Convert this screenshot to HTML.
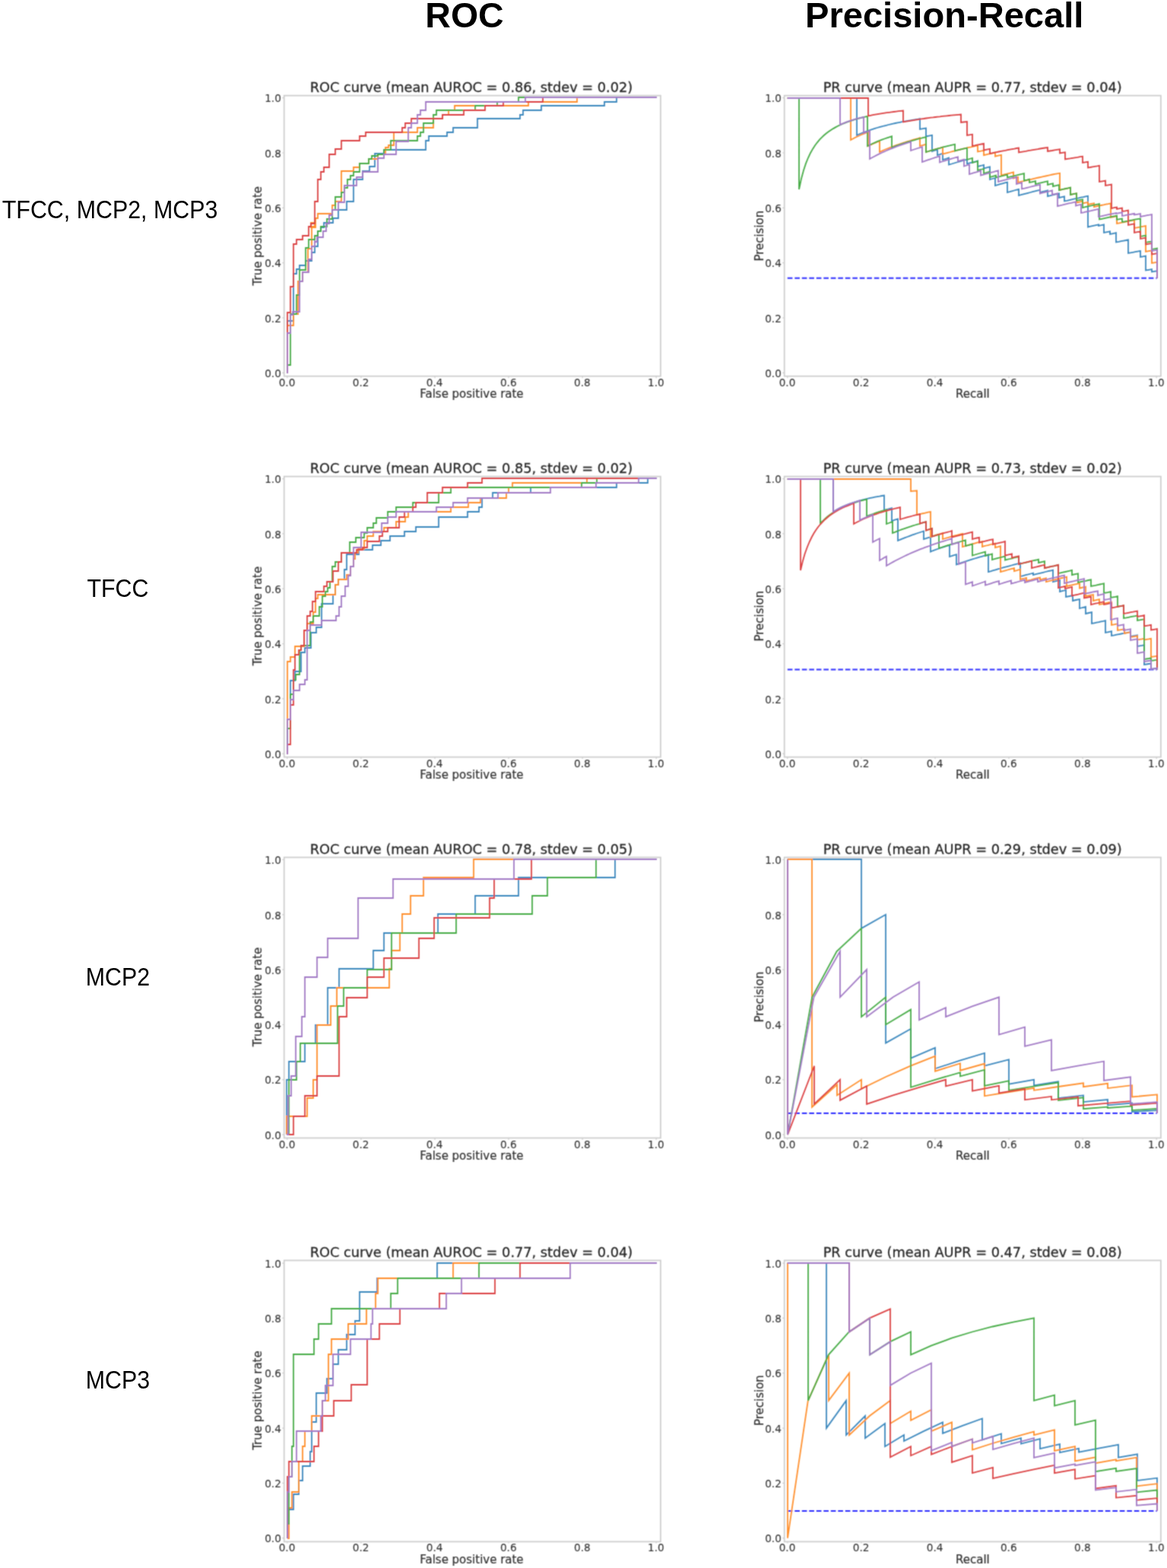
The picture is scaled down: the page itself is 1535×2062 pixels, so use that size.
<!DOCTYPE html>
<html lang="en">
<head>
<meta charset="utf-8">
<title>ROC and Precision-Recall curves</title>
<style>
html,body{margin:0;padding:0;background:#fff;}
body{width:1535px;height:2062px;overflow:hidden;}
svg{display:block;}
.hd{font-family:"Liberation Sans",sans-serif;font-weight:bold;font-size:46.5px;fill:#000;text-anchor:middle;}
.rl{font-family:"Liberation Sans",sans-serif;font-size:30.4px;fill:#000;}
.tt{font-family:"DejaVu Sans","Liberation Sans",sans-serif;font-size:17.75px;fill:#303030;text-anchor:middle;}
.al{font-family:"DejaVu Sans","Liberation Sans",sans-serif;font-size:15px;fill:#303030;text-anchor:middle;}
.tk{font-family:"DejaVu Sans","Liberation Sans",sans-serif;font-size:13.6px;fill:#303030;}
.tt{fill:#262626;stroke:#262626;stroke-width:.3px;}
.al{stroke:#303030;stroke-width:.2px;}
.tk{stroke:#303030;stroke-width:.1px;}
.tx{text-anchor:middle;}
.ty{text-anchor:end;}
.sp{fill:none;stroke:#cccccc;stroke-width:1.7;}
.tm{stroke:#cccccc;stroke-width:1.2;}
.c{fill:none;stroke-width:1.8;stroke-linejoin:miter;stroke-linecap:butt;}
.b{stroke:#3a87bd;}.o{stroke:#ff8e2b;}.g{stroke:#45ab45;}.r{stroke:#db4142;}.p{stroke:#a179c5;}
.bl{fill:none;stroke:#2a2aff;stroke-width:2;stroke-dasharray:6.6 2.9;}
</style>
</head>
<body>
<svg width="1535" height="2062" viewBox="0 0 1535 2062">
<rect width="1535" height="2062" fill="#fff"/>
<defs><filter id="soft" filterUnits="userSpaceOnUse" x="0" y="0" width="1535" height="2062"><feConvolveMatrix order="3" kernelMatrix="0.0400 0.1200 0.0400 0.1200 0.3600 0.1200 0.0400 0.1200 0.0400" divisor="1" edgeMode="duplicate" preserveAlpha="false"/></filter></defs>
<text class="hd" x="611" y="35.8">ROC</text>
<text class="hd" x="1242.2" y="36" style="font-size:47.1px">Precision-Recall</text>
<text class="rl" transform="translate(2.8 287) scale(1 1.08)" text-anchor="start">TFCC, MCP2, MCP3</text>
<text class="rl" transform="translate(155 785.4) scale(1 1.08)" text-anchor="middle">TFCC</text>
<text class="rl" transform="translate(155 1296) scale(1 1.08)" text-anchor="middle">MCP2</text>
<text class="rl" transform="translate(155 1826) scale(1 1.08)" text-anchor="middle">MCP3</text>
<g filter="url(#soft)">
<g>
<clipPath id="clip00"><rect x="373.7" y="125.7" width="495.2" height="369"/></clipPath>
<g clip-path="url(#clip00)">
<path class="c b" d="M378 491L378 422L386 422L386 360L390 360L390 354L394 354L394 349L402 349L402 343L410 343L410 332L414 332L414 324L418 324L418 304L422 304L422 299L426 299L426 293L438 293L438 287L445 287L445 276L456 276L456 265L465 265L465 236L477 236L477 225L486 225L486 219L493 219L493 202L505 202L505 197L560 197L560 185L564 185L564 179L588 179L588 174L596 174L596 168L628 168L628 156L684 156L684 151L688 151L688 145L712 145L712 139L795 139L795 134L811 134L811 128L864 128"/>
<path class="c o" d="M378 491L378 428L386 428L386 413L392 413L392 370L398 370L398 358L405 358L405 327L410 327L410 298L414 298L414 293L409 293L409 299L415 299L415 287L418 287L418 281L437 281L437 270L441 270L441 265L449 265L449 225L465 225L465 220L473 220L473 215L485 215L485 209L497 209L497 203L507 203L507 194L511 194L511 191L518 191L518 174L549 174L549 168L570 168L570 156L582 156L582 151L590 151L590 145L598 145L598 139L695 139L695 134L759 134L759 128L864 128"/>
<path class="c g" d="M378 491L378 480L382 480L382 413L390 413L390 388L394 388L394 355L402 355L402 326L406 326L406 315L414 315L414 310L418 310L418 304L422 304L422 298L430 298L430 293L430 288L437 288L437 276L441 276L441 259L449 259L449 253L453 253L453 247L457 247L457 236L461 236L461 231L465 231L465 226L473 226L473 215L485 215L485 209L489 209L489 205L497 205L497 203L505 203L505 197L514 197L514 185L549 185L549 179L553 179L553 174L557 174L557 162L570 162L570 151L574 151L574 145L625 145L625 139L654 139L654 134L682 134L682 128L864 128"/>
<path class="c r" d="M378 491L378 411L382 411L382 377L386 377L386 321L390 321L390 315L398 315L398 310L406 310L406 298L409 298L409 294L414 294L414 265L418 265L418 236L422 236L422 226L426 226L426 220L433 220L433 203L441 203L441 196L449 196L449 185L473 185L473 179L481 179L481 174L529 174L529 168L533 168L533 162L541 162L541 156L582 156L582 151L610 151L610 145L638 145L638 139L662 139L662 134L714 134L714 128L864 128"/>
<path class="c p" d="M378 491L378 438L382 438L382 414L385 414L385 410L394 410L394 370L398 370L398 358L406 358L406 341L410 341L410 324L414 324L414 316L414 318L417 318L417 312L425 312L425 304L429 304L429 294L433 294L433 283L437 283L437 276L445 276L445 266L453 266L453 244L469 244L469 233L477 233L477 226L497 226L497 208L505 208L505 203L521 203L521 186L537 186L537 168L541 168L541 162L549 162L549 151L553 151L553 145L560 145L560 134L691 134L691 128L864 128"/>
</g>
<rect class="sp" x="373.7" y="125.7" width="495.2" height="369"/>
<text class="tt" transform="translate(620 120.9) scale(1 1.02)">ROC curve (mean AUROC = 0.86, stdev = 0.02)</text>
<path class="tm" d="M377.8 494.7v2.5M373.7 490.3h-2.5"/><text class="tk tx" transform="translate(377.5 508) scale(1 1.05)">0.0</text><text class="tk ty" transform="translate(369.8 496) scale(1 1.05)">0.0</text>
<path class="tm" d="M474.9 494.7v2.5M373.7 418h-2.5"/><text class="tk tx" transform="translate(474.58 508) scale(1 1.05)">0.2</text><text class="tk ty" transform="translate(369.8 423.68) scale(1 1.05)">0.2</text>
<path class="tm" d="M572 494.7v2.5M373.7 345.7h-2.5"/><text class="tk tx" transform="translate(571.66 508) scale(1 1.05)">0.4</text><text class="tk ty" transform="translate(369.8 351.36) scale(1 1.05)">0.4</text>
<path class="tm" d="M669 494.7v2.5M373.7 273.3h-2.5"/><text class="tk tx" transform="translate(668.74 508) scale(1 1.05)">0.6</text><text class="tk ty" transform="translate(369.8 279.04) scale(1 1.05)">0.6</text>
<path class="tm" d="M766.1 494.7v2.5M373.7 201h-2.5"/><text class="tk tx" transform="translate(765.82 508) scale(1 1.05)">0.8</text><text class="tk ty" transform="translate(369.8 206.72) scale(1 1.05)">0.8</text>
<path class="tm" d="M863.2 494.7v2.5M373.7 128.7h-2.5"/><text class="tk tx" transform="translate(862.9 508) scale(1 1.05)">1.0</text><text class="tk ty" transform="translate(369.8 134.4) scale(1 1.05)">1.0</text>
<text class="al" transform="translate(620.4 523.2) scale(1 1.05)">False positive rate</text>
<text class="al" transform="translate(344 310.2) rotate(-90) scale(1 1.05)">True positive rate</text>
</g>
<g>
<clipPath id="clip01"><rect x="1031.7" y="125.7" width="495.2" height="369"/></clipPath>
<g clip-path="url(#clip01)">
<path class="bl" d="M1035.8 365.7H1521.8"/>
<path class="c b" d="M1035.8 129L1038.7 129L1041.7 129L1044.6 129L1047.6 129L1050.5 129L1053.5 129L1056.4 129L1059.3 129L1062.3 129L1065.2 129L1068.2 129L1071.1 129L1074 129L1077 129L1079.9 129L1082.9 129L1085.8 129L1088.8 129L1091.7 129L1094.6 129L1097.6 129L1100.5 129L1103.5 129L1106.4 129L1109.3 129L1112.3 129L1115.2 129L1118.2 129L1121.1 129L1124.1 129L1127 129L1127 178L1130 176.6L1133 175.4L1135.9 174.1L1138.9 173L1141.9 171.9L1144.9 170.9L1147.9 169.9L1150.9 168.9L1153.8 168L1156.8 167.1L1159.8 166.3L1162.8 165.5L1165.8 164.8L1168.8 164L1171.7 163.3L1174.7 162.7L1177.7 162L1180.7 161.4L1183.7 160.8L1186.6 160.2L1189.6 159.6L1192.6 159.1L1195.6 158.6L1198.6 158.1L1201.6 157.6L1204.5 157.1L1207.5 156.7L1210 156.2L1210 170L1214.2 169.2L1218 168.5L1218 179.5L1221.8 178.6L1226 177.8L1226 199L1229.2 197.9L1233 196.8L1233 204L1236.8 202.9L1240 201.8L1240 210L1244.5 208.8L1248 207.6L1248 216.5L1251.8 215.5L1255.1 214.5L1258.4 213.5L1261.6 212.6L1264.9 211.6L1268.2 210.7L1272 209.9L1272 215.5L1274.5 214.7L1277.5 213.9L1280.5 213.1L1283.5 212.3L1286 211.5L1286 219L1290.2 218L1294 217L1294 221.5L1298 220.4L1302 219.4L1302 236L1305.5 235L1309 234.1L1309 244L1312.2 243.1L1315.4 242.2L1318.6 241.3L1321.8 240.4L1325 239.6L1325 253L1328 252.2L1331 251.3L1334 250.5L1337 249.7L1340 248.9L1340 257L1343.1 256.2L1346.1 255.4L1349.2 254.6L1352.2 253.8L1355.3 253L1358.3 252.2L1361.4 251.4L1364.4 250.7L1368 249.9L1368 253L1371 252.1L1374.5 251.3L1378 250.5L1378 258L1381 257.3L1384 256.6L1387 255.9L1390 255.2L1393 254.5L1393 260L1396.8 259.1L1400 258.3L1400 264.5L1403.6 263.8L1406.6 263.1L1409.7 262.4L1412.7 261.7L1415.8 261L1418.8 260.4L1421.8 259.7L1424.9 259.1L1428 258.4L1431 257.8L1431 298.5L1434.5 297.7L1438 296.9L1441.5 296.1L1445 295.4L1445 297L1448.8 296.2L1452 295.4L1452 306L1456.2 305.2L1460 304.4L1460 308L1464.2 307.1L1468 306.2L1468 318.5L1471.6 317.9L1474.7 317.2L1477.8 316.6L1480.9 316L1484 315.3L1484 333L1487.1 332.4L1490.2 331.8L1493.3 331.2L1496.4 330.6L1500 330L1500 338L1503.2 337.3L1507 336.6L1507 355.5L1511 354.8L1515 354.1L1515 357.5L1518.4 356.9L1522 356.3L1522 365.7"/>
<path class="c o" d="M1035.8 129L1038.8 129L1041.7 129L1044.7 129L1047.7 129L1050.7 129L1053.6 129L1056.6 129L1059.6 129L1062.5 129L1065.5 129L1068.5 129L1071.5 129L1074.4 129L1077.4 129L1080.4 129L1083.3 129L1086.3 129L1089.3 129L1092.3 129L1095.2 129L1098.2 129L1101.2 129L1104.1 129L1107.1 129L1110.1 129L1113.1 129L1116 129L1119 129L1119 184L1122.3 182.2L1125.6 180.5L1128.9 179L1132.1 177.5L1135.4 176.1L1138.7 174.8L1142 173.5L1142 192L1145 190.6L1148 189.2L1151 187.9L1154 186.6L1157 185.4L1157 200L1160 198.6L1162.9 197.3L1165.9 196L1168.9 194.8L1171.9 193.6L1174.8 192.5L1177.8 191.4L1180.8 190.3L1183.8 189.3L1186.7 188.3L1189.7 187.3L1192.7 186.4L1195.6 185.5L1198.6 184.6L1201.6 183.7L1204.6 182.9L1207.5 182.1L1210 181.3L1210 192L1214.2 190.9L1218 189.8L1218 200L1221.2 199L1224.4 198L1227.6 197.1L1230.9 196.2L1234.1 195.3L1237.3 194.4L1240 193.6L1240 202.5L1243.6 201.6L1246.6 200.8L1249.7 200L1252.8 199.1L1255.8 198.3L1258.9 197.6L1262 196.8L1265 196.1L1268.1 195.3L1271.2 194.6L1274.2 193.9L1277.3 193.3L1280.4 192.6L1283.4 191.9L1286 191.3L1286 199.5L1290.2 198.7L1294 197.8L1294 204L1297 203.3L1300 202.6L1303 202L1306 201.3L1309 200.7L1309 205.5L1313 204.6L1317 203.8L1317 230.5L1320.2 229.7L1323.4 228.9L1326.6 228.1L1329.8 227.3L1333 226.5L1333 234.5L1336 233.7L1339 233L1339 240L1342 239.2L1345.1 238.5L1348.1 237.7L1351.1 237L1354.1 236.3L1357.2 235.6L1360.2 234.9L1363.2 234.2L1366.2 233.5L1369.3 232.8L1372.3 232.1L1375.3 231.5L1378.4 230.8L1381.4 230.2L1384.4 229.5L1387.4 228.9L1390.5 228.3L1394 227.7L1394 250L1397.1 249.2L1400.8 248.4L1404.4 247.6L1408 246.8L1408 256L1412 255.1L1416 254.3L1416 266.5L1420 265.6L1424 264.7L1424 267.5L1427.5 266.7L1431 266L1431 269L1435 268.1L1439 267.3L1439 272L1442.1 271.3L1445.3 270.7L1448.4 270L1451.6 269.4L1454.7 268.7L1457.9 268.1L1461 267.4L1461 286L1465 285.2L1469 284.3L1469 294L1472.3 293.3L1475.6 292.6L1478.9 292L1482.1 291.3L1485.4 290.7L1488.7 290L1492 289.4L1492 300L1495 299.4L1498 298.8L1501 298.2L1504 297.7L1507 297.1L1507 331L1511 330.2L1515 329.5L1515 346L1518.4 345.4L1522 344.8L1522 365.7"/>
<path class="c g" d="M1035.8 129L1038.8 129L1041.9 129L1044.9 129L1048 129L1051 129L1051 249L1054 235L1057 223.9L1060 214.9L1063 207.5L1066 201.2L1069 195.9L1072 191.3L1075 187.3L1078 183.7L1081 180.6L1084 177.8L1087 175.3L1090 173.1L1093 171L1096 169.1L1099 167.4L1102 165.8L1105 164.4L1108 163L1111 161.8L1114 160.6L1117 159.6L1120 158.6L1123 157.6L1126 156.7L1129 155.9L1132 155.1L1135 154.4L1138 153.7L1141 153L1141 192L1144.2 190.5L1147.4 189L1150.6 187.6L1153.8 186.2L1157 184.9L1160.2 183.7L1163.4 182.5L1166.6 181.4L1169.8 180.3L1173 179.3L1173 194L1176 192.9L1179 191.7L1182 190.7L1185 189.6L1188 188.6L1191 187.7L1194 186.7L1197 185.8L1200 184.9L1203 184.1L1206 183.2L1209 182.4L1212 181.7L1215 180.9L1218 180.2L1218 200L1221.1 199L1224.2 198.1L1227.4 197.2L1230.5 196.3L1233.6 195.4L1236.8 194.6L1239.9 193.7L1243 192.9L1246.1 192.1L1249.2 191.4L1252.4 190.6L1256 189.9L1256 198.5L1258.7 197.7L1261.9 196.9L1265.1 196.1L1268.3 195.4L1272 194.6L1272 210L1275.2 209L1279 208L1279 214L1282.8 213L1286 212L1286 224L1290.2 223L1294 221.9L1294 228L1298 226.9L1302 225.8L1302 233L1306 231.9L1310 230.8L1310 233.5L1313 232.7L1316 231.9L1319 231.1L1322 230.3L1325 229.6L1325 233.5L1328.1 232.7L1331.3 231.9L1334.4 231.1L1337.6 230.4L1340.7 229.6L1343.9 228.9L1347 228.1L1347 237.5L1350.8 236.6L1354 235.7L1354 240L1358.2 239.1L1362 238.2L1362 242L1365.1 241.3L1368.2 240.5L1371.3 239.8L1374.4 239.1L1378 238.4L1378 243L1381.2 242.1L1385 241.3L1385 245L1389 244.1L1393 243.2L1393 250L1396 249.3L1399 248.7L1402 248L1405 247.4L1408 246.7L1408 256L1412 255.1L1416 254.3L1416 264L1419.8 263.2L1424 262.4L1424 273L1426.7 272.3L1429.9 271.6L1433.1 270.9L1436.4 270.2L1439.6 269.5L1442.8 268.8L1446 268.1L1446 288.5L1449.3 287.8L1452.6 287.1L1455.9 286.4L1459.1 285.7L1462.4 285L1465.7 284.3L1469 283.7L1469 289L1472.8 288.2L1476 287.5L1476 292L1479.8 291.3L1483.1 290.7L1486.4 290L1489.6 289.4L1492.9 288.7L1496.2 288.1L1500 287.5L1500 311L1503.2 310.3L1507 309.5L1507 319L1511 318.2L1515 317.5L1515 328L1518.4 327.4L1522 326.7L1522 365.7"/>
<path class="c r" d="M1035.8 129L1038.8 129L1041.7 129L1044.6 129L1047.6 129L1050.5 129L1053.5 129L1056.5 129L1059.4 129L1062.3 129L1065.3 129L1068.2 129L1071.2 129L1074.1 129L1077.1 129L1080 129L1083 129L1086 129L1088.9 129L1091.8 129L1094.8 129L1097.8 129L1100.7 129L1103.7 129L1106.6 129L1109.5 129L1112.5 129L1115.5 129L1118.4 129L1121.3 129L1124.3 129L1127.2 129L1130.2 129L1133.2 129L1136.1 129L1139 129L1142 129L1142 152.4L1145.1 151.8L1148.1 151.2L1151.2 150.6L1154.3 150.1L1157.3 149.6L1160.4 149.1L1163.5 148.6L1166.5 148.2L1169.6 147.8L1172.7 147.4L1175.7 147L1178.8 146.6L1181.9 146.2L1184.9 145.9L1188 145.6L1188 160.4L1191 159.8L1194 159.3L1197.1 158.8L1200.1 158.3L1203.1 157.8L1206.1 157.3L1209.1 156.8L1212.2 156.4L1215.2 156L1218.2 155.5L1221.2 155.1L1224.2 154.7L1227.3 154.4L1230.3 154L1233.3 153.6L1236.3 153.3L1239.3 152.9L1242.4 152.6L1245.4 152.3L1248.4 152L1251.4 151.7L1254.4 151.4L1257.5 151.1L1260.5 150.8L1264 150.5L1264 161L1267.5 160.5L1272 160L1272 178L1275.2 177.3L1279 176.7L1279 192L1282 191.4L1285 190.7L1288 190.1L1291 189.5L1294 188.9L1294 197.5L1298 196.6L1302 195.8L1302 202L1304.9 201.4L1307.8 200.7L1310.8 200.1L1313.7 199.5L1316.6 198.9L1319.5 198.3L1322.5 197.8L1325.4 197.2L1328.3 196.6L1331.2 196.1L1334.2 195.6L1337.1 195L1340 194.5L1340 200.5L1343.1 199.9L1346.2 199.3L1349.4 198.8L1352.5 198.2L1355.6 197.7L1358.8 197.1L1361.9 196.6L1365 196.1L1368.1 195.5L1371.2 195L1374.4 194.5L1378 194L1378 199L1380.7 198.5L1383.9 198L1387.1 197.4L1390.3 196.9L1394 196.4L1394 201.5L1397.2 200.9L1401 200.3L1401 209.5L1404.3 208.9L1407.6 208.4L1410.9 207.8L1414.1 207.3L1417.4 206.8L1420.7 206.2L1424 205.7L1424 214L1427.5 213.4L1431 212.8L1431 220.5L1434.1 220L1437.2 219.4L1440.3 218.9L1443.4 218.4L1446 217.9L1446 239L1450.2 238.3L1454 237.6L1454 244L1457.8 243.3L1462 242.6L1462 274L1465.2 273.2L1469 272.5L1469 275L1472.8 274.2L1476 273.5L1476 278L1480.2 277.3L1484 276.5L1484 296L1488 295.2L1492 294.4L1492 306L1496 305.2L1500 304.4L1500 314L1503.5 313.3L1507 312.6L1507 321.5L1511 320.7L1515 320L1515 334.5L1518.4 333.9L1522 333.2L1522 365.7"/>
<path class="c p" d="M1035.8 129L1038.8 129L1041.8 129L1044.8 129L1047.8 129L1050.8 129L1053.9 129L1056.9 129L1059.9 129L1062.9 129L1065.9 129L1068.9 129L1071.9 129L1074.9 129L1077.9 129L1080.9 129L1083.9 129L1086.9 129L1090 129L1093 129L1096 129L1099 129L1102 129L1105 129L1105 164L1108.1 162.6L1111.2 161.4L1114.3 160.2L1117.4 159.1L1120.5 158.1L1123.6 157.1L1126.7 156.2L1129.8 155.4L1132.9 154.6L1136 153.8L1136 175L1140 173.4L1144 172L1144 209L1147 207.3L1150 205.7L1153 204.1L1156 202.6L1159 201.2L1162 199.8L1165 198.5L1168 197.2L1171 195.9L1174 194.8L1177 193.6L1180 192.5L1183 191.4L1186 190.4L1189 189.4L1192 188.4L1195 187.5L1198 186.5L1198 198L1201 197L1204 196L1207 195L1210 194.1L1213 193.2L1213 213L1216.3 211.8L1219.6 210.7L1222.9 209.6L1226.1 208.5L1229.4 207.4L1232.7 206.4L1236 205.4L1236 213.5L1239 212.5L1242 211.6L1245 210.7L1248 209.8L1251 208.9L1254 208L1257 207.2L1260 206.4L1260 212L1264 210.9L1268 209.8L1268 218.5L1271.5 217.5L1275 216.5L1275 229L1278.1 228.1L1281.2 227.2L1284.3 226.3L1287.4 225.4L1290 224.5L1290 230.5L1293.7 229.6L1296.9 228.7L1300.1 227.8L1303.4 226.9L1306.6 226.1L1309.8 225.2L1313 224.4L1313 239L1316 238.2L1319 237.4L1322 236.6L1325 235.8L1328 235L1331 234.2L1334 233.5L1337 232.7L1337 242L1340.8 241L1344 240.1L1344 248.5L1347.8 247.7L1351.1 246.8L1354.4 246L1357.6 245.2L1360.9 244.4L1364.2 243.6L1368 242.8L1368 254.5L1370.8 253.7L1374.1 252.9L1377.4 252.1L1380.7 251.3L1384 250.5L1384 256L1387.5 255.2L1391 254.4L1391 271L1394 270.3L1397 269.6L1400 268.8L1403 268.1L1406 267.4L1409 266.8L1412 266.1L1415 265.4L1415 270.5L1418.5 269.7L1422 268.9L1422 280L1425.3 279.3L1428.6 278.5L1431.9 277.8L1435.1 277.1L1438.4 276.3L1441.7 275.6L1445 274.9L1445 285L1448.3 284.3L1451.6 283.6L1454.9 282.9L1458.1 282.2L1461.4 281.5L1464.7 280.8L1468 280.2L1468 281L1472 280.2L1476 279.4L1476 284L1479.2 283.4L1482.4 282.7L1485.6 282.1L1488.8 281.5L1492 280.8L1492 282.5L1495.8 281.8L1500 281.1L1500 285L1502.6 284.4L1505.7 283.8L1508.8 283.2L1511.9 282.7L1515 282.1L1515 330L1518.4 329.4L1522 328.7L1522 365.7"/>
</g>
<rect class="sp" x="1031.7" y="125.7" width="495.2" height="369"/>
<text class="tt" transform="translate(1279.2 120.9) scale(1 1.02)">PR curve (mean AUPR = 0.77, stdev = 0.04)</text>
<path class="tm" d="M1035.8 494.7v2.5M1031.7 490.3h-2.5"/><text class="tk tx" transform="translate(1035.5 508) scale(1 1.05)">0.0</text><text class="tk ty" transform="translate(1027.8 496) scale(1 1.05)">0.0</text>
<path class="tm" d="M1132.9 494.7v2.5M1031.7 418h-2.5"/><text class="tk tx" transform="translate(1132.58 508) scale(1 1.05)">0.2</text><text class="tk ty" transform="translate(1027.8 423.68) scale(1 1.05)">0.2</text>
<path class="tm" d="M1230 494.7v2.5M1031.7 345.7h-2.5"/><text class="tk tx" transform="translate(1229.66 508) scale(1 1.05)">0.4</text><text class="tk ty" transform="translate(1027.8 351.36) scale(1 1.05)">0.4</text>
<path class="tm" d="M1327 494.7v2.5M1031.7 273.3h-2.5"/><text class="tk tx" transform="translate(1326.74 508) scale(1 1.05)">0.6</text><text class="tk ty" transform="translate(1027.8 279.04) scale(1 1.05)">0.6</text>
<path class="tm" d="M1424.1 494.7v2.5M1031.7 201h-2.5"/><text class="tk tx" transform="translate(1423.82 508) scale(1 1.05)">0.8</text><text class="tk ty" transform="translate(1027.8 206.72) scale(1 1.05)">0.8</text>
<path class="tm" d="M1521.2 494.7v2.5M1031.7 128.7h-2.5"/><text class="tk tx" transform="translate(1520.9 508) scale(1 1.05)">1.0</text><text class="tk ty" transform="translate(1027.8 134.4) scale(1 1.05)">1.0</text>
<text class="al" transform="translate(1279.4 523.2) scale(1 1.05)">Recall</text>
<text class="al" transform="translate(1004.4 310.2) rotate(-90) scale(1 1.05)">Precision</text>
</g>
<g>
<clipPath id="clip10"><rect x="373.7" y="626.6" width="495.2" height="369"/></clipPath>
<g clip-path="url(#clip10)">
<path class="c b" d="M378 992L378 946L382 946L382 895L388 895L388 883L396 883L396 858L401 858L401 852L409 852L409 832L416 832L416 825L423 825L423 794L438 794L438 782L441 782L441 769L445 769L445 762L453 762L453 749L456 749L456 729L472 729L472 723L490 723L490 717L501 717L501 711L513 711L513 705L532 705L532 699L547 699L547 693L577 693L577 680L615 680L615 673L630 673L630 667L634 667L634 655L648 655L648 648L698 648L698 641L811 641L811 635L852 635L852 629L864 629"/>
<path class="c o" d="M378 992L378 870L382 870L382 864L388 864L388 850L400 850L400 829L404 829L404 820L412 820L412 805L415 805L415 787L418 787L418 782L441 782L441 769L445 769L445 762L456 762L456 756L461 756L461 745L465 745L465 735L467 735L467 727L471 727L471 722L479 722L479 711L483 711L483 705L491 705L491 699L505 699L505 694L521 694L521 686L533 686L533 680L537 680L537 673L593 673L593 667L616 667L616 661L632 661L632 655L666 655L666 648L669 648L669 641L674 641L674 635L772 635L772 629L864 629"/>
<path class="c g" d="M378 992L378 958L382 958L382 913L386 913L386 894L389 894L389 887L394 887L394 855L396 855L396 849L408 849L408 818L412 818L412 810L420 810L420 798L424 798L424 784L428 784L428 778L431 778L431 773L434 773L434 765L437 765L437 745L441 745L441 739L449 739L449 727L460 727L460 713L468 713L468 707L479 707L479 701L483 701L483 694L491 694L491 688L495 688L495 681L510 681L510 673L521 673L521 667L543 667L543 661L577 661L577 648L593 648L593 641L765 641L765 635L785 635L785 629L864 629"/>
<path class="c r" d="M378 992L378 979L382 979L382 927L386 927L386 881L388 881L388 861L393 861L393 855L396 855L396 849L400 849L400 829L404 829L404 810L408 810L408 804L411 804L411 791L415 791L415 778L426 778L426 771L430 771L430 765L438 765L438 751L445 751L445 739L449 739L449 727L469 727L469 723L477 723L477 720L483 720L483 712L499 712L499 705L503 705L503 699L510 699L510 694L525 694L525 680L532 680L532 673L543 673L543 667L547 667L547 661L562 661L562 648L582 648L582 641L615 641L615 635L634 635L634 629L864 629"/>
<path class="c p" d="M378 992L378 946L382 946L382 920L386 920L386 908L394 908L394 900L401 900L401 894L404 894L404 829L408 829L408 822L423 822L423 816L442 816L442 810L446 810L446 798L449 798L449 784L454 784L454 771L458 771L458 757L461 757L461 745L465 745L465 720L475 720L475 700L502 700L502 688L510 688L510 680L521 680L521 673L574 673L574 667L596 667L596 661L615 661L615 655L655 655L655 648L724 648L724 641L784 641L784 635L840 635L840 629L864 629"/>
</g>
<rect class="sp" x="373.7" y="626.6" width="495.2" height="369"/>
<text class="tt" transform="translate(620 621.8) scale(1 1.02)">ROC curve (mean AUROC = 0.85, stdev = 0.02)</text>
<path class="tm" d="M377.8 995.6v2.5M373.7 991.2h-2.5"/><text class="tk tx" transform="translate(377.5 1008.9) scale(1 1.05)">0.0</text><text class="tk ty" transform="translate(369.8 996.9) scale(1 1.05)">0.0</text>
<path class="tm" d="M474.9 995.6v2.5M373.7 918.9h-2.5"/><text class="tk tx" transform="translate(474.58 1008.9) scale(1 1.05)">0.2</text><text class="tk ty" transform="translate(369.8 924.58) scale(1 1.05)">0.2</text>
<path class="tm" d="M572 995.6v2.5M373.7 846.6h-2.5"/><text class="tk tx" transform="translate(571.66 1008.9) scale(1 1.05)">0.4</text><text class="tk ty" transform="translate(369.8 852.26) scale(1 1.05)">0.4</text>
<path class="tm" d="M669 995.6v2.5M373.7 774.2h-2.5"/><text class="tk tx" transform="translate(668.74 1008.9) scale(1 1.05)">0.6</text><text class="tk ty" transform="translate(369.8 779.94) scale(1 1.05)">0.6</text>
<path class="tm" d="M766.1 995.6v2.5M373.7 701.9h-2.5"/><text class="tk tx" transform="translate(765.82 1008.9) scale(1 1.05)">0.8</text><text class="tk ty" transform="translate(369.8 707.62) scale(1 1.05)">0.8</text>
<path class="tm" d="M863.2 995.6v2.5M373.7 629.6h-2.5"/><text class="tk tx" transform="translate(862.9 1008.9) scale(1 1.05)">1.0</text><text class="tk ty" transform="translate(369.8 635.3) scale(1 1.05)">1.0</text>
<text class="al" transform="translate(620.4 1024.1) scale(1 1.05)">False positive rate</text>
<text class="al" transform="translate(344 810.1) rotate(-90) scale(1 1.05)">True positive rate</text>
</g>
<g>
<clipPath id="clip11"><rect x="1031.7" y="626.6" width="495.2" height="369"/></clipPath>
<g clip-path="url(#clip11)">
<path class="bl" d="M1035.8 880.4H1521.8"/>
<path class="c b" d="M1035.8 630L1038.8 630L1041.8 630L1044.8 630L1047.8 630L1050.8 630L1053.9 630L1056.9 630L1059.9 630L1062.9 630L1065.9 630L1068.9 630L1071.9 630L1074.9 630L1077.9 630L1081 630L1084 630L1087 630L1090 630L1093 630L1096 630L1096 673L1099 671.2L1102.1 669.5L1105.1 667.9L1108.2 666.4L1111.2 665.1L1114.3 663.9L1117.3 662.7L1120.4 661.6L1123.4 660.6L1126.5 659.6L1129.5 658.7L1132.5 657.9L1135.6 657.1L1138.6 656.3L1141.7 655.6L1144.7 654.9L1147.8 654.3L1150.8 653.7L1153.9 653.1L1156.9 652.6L1160 652L1163 651.5L1163 671L1166.3 670.1L1169.7 669.2L1173 668.3L1173 685L1177 683.7L1181 682.4L1181 711L1184.1 709.7L1187.2 708.4L1190.3 707.2L1193.4 706L1196.5 704.8L1199.5 703.7L1202.6 702.6L1205.7 701.5L1208.8 700.5L1211.9 699.5L1215 698.5L1215 709L1219.2 707.6L1224 706.2L1224 725.5L1226.7 724.3L1229.9 723.2L1233.1 722L1236.2 720.9L1239.4 719.9L1242.6 718.8L1245.8 717.8L1249 716.8L1249 732L1253.2 730.6L1258 729.2L1258 742.5L1260.6 741.4L1263.6 740.4L1266.7 739.4L1269.8 738.4L1272.9 737.4L1275.9 736.4L1279 735.4L1282.1 734.5L1285.1 733.6L1288.2 732.7L1291.3 731.8L1294.4 730.9L1297.4 730.1L1300 729.2L1300 752L1303.5 751.1L1306.5 750.2L1309.5 749.3L1312.5 748.4L1315.5 747.6L1318.5 746.7L1321.5 745.9L1324.5 745.1L1327.5 744.3L1330.5 743.5L1333.5 742.7L1336.5 741.9L1339.5 741.1L1342 740.4L1342 758L1345.8 757.1L1349.1 756.2L1352.4 755.4L1355.7 754.5L1359 753.7L1359 756L1362.2 755.2L1365.5 754.4L1368.8 753.6L1372 752.8L1375.2 752L1378.5 751.2L1381.8 750.5L1385 749.7L1385 765L1388 764.3L1391 763.6L1394 762.9L1394 778L1398.2 777L1402 776L1402 785L1406.8 784L1411 783L1411 790L1415.2 789L1420 788L1420 800L1423.8 799L1428 798L1428 807L1432.2 806L1436 805.1L1436 820L1439.4 819.3L1442.3 818.7L1445.2 818.1L1448.2 817.4L1451.1 816.8L1454 816.1L1454 832L1458.2 831.1L1462 830.2L1462 836L1465.6 835.4L1468.6 834.7L1471.7 834.1L1474.8 833.5L1477.8 832.9L1480.9 832.3L1483.9 831.6L1487 831L1487 837L1490 836.4L1493 835.8L1496 835.3L1496 850L1499 849.4L1502 848.9L1505 848.3L1505 874L1508 873.5L1511 873L1514 872.5L1514 880L1517.9 879.4L1522 878.8L1522 880.4"/>
<path class="c o" d="M1035.8 630L1038.7 630L1041.7 630L1044.6 630L1047.6 630L1050.5 630L1053.5 630L1056.4 630L1059.4 630L1062.3 630L1065.3 630L1068.2 630L1071.2 630L1074.1 630L1077.1 630L1080 630L1083 630L1085.9 630L1088.9 630L1091.8 630L1094.8 630L1097.7 630L1100.7 630L1103.6 630L1106.6 630L1109.5 630L1112.5 630L1115.4 630L1118.4 630L1121.3 630L1124.3 630L1127.2 630L1130.2 630L1133.1 630L1136.1 630L1139 630L1142 630L1144.9 630L1147.9 630L1150.8 630L1153.8 630L1156.7 630L1159.7 630L1162.6 630L1165.6 630L1168.5 630L1171.5 630L1174.4 630L1177.4 630L1180.3 630L1183.3 630L1186.2 630L1189.2 630L1192.1 630L1195.1 630L1198 630L1198 646L1202 645.6L1206 645.3L1206 677L1208.9 676.3L1211.8 675.6L1214.8 675L1217.7 674.3L1220.6 673.7L1224 673.1L1224 706L1226.8 705L1230.1 703.9L1233.4 702.9L1236.7 702L1240 701L1240 709L1243.2 708L1246.5 707.1L1249.8 706.1L1253 705.2L1256.2 704.4L1259.5 703.5L1262.8 702.6L1266 701.8L1266 719L1269.2 718.1L1272.4 717.2L1275.6 716.3L1278.8 715.4L1281.9 714.6L1285.1 713.7L1288.3 712.9L1292 712.1L1292 719L1294.4 718.2L1297.3 717.5L1300.2 716.8L1303.2 716L1306.1 715.3L1309 714.6L1309 720L1312.8 719.1L1316 718.2L1316 752L1319.4 751.2L1322.3 750.3L1325.2 749.5L1328.2 748.7L1331.1 747.9L1334 747.2L1334 751L1338.2 749.9L1342 748.7L1342 762L1346.2 761L1350 760L1350 764L1352.9 763.2L1355.8 762.5L1358.8 761.7L1361.7 760.9L1364.6 760.2L1368 759.5L1368 762.5L1371.8 761.4L1376 760.4L1376 765L1379 764.3L1382 763.5L1385 762.8L1388 762.1L1391 761.4L1394 760.7L1397 760L1400 759.3L1403 758.6L1403 771L1406.4 770.2L1409.8 769.4L1413.2 768.6L1416.6 767.9L1420 767.1L1420 773.5L1424.2 772.5L1428 771.6L1428 784L1431.5 783.3L1434.5 782.7L1438 782L1438 790L1441.8 789.1L1446 788.1L1446 795L1449.2 794.3L1452.4 793.6L1455.6 792.9L1458.8 792.2L1462 791.6L1462 822L1466 821.2L1470 820.3L1470 829L1473 828.4L1476 827.8L1479 827.2L1479 833L1483 832.2L1487 831.4L1487 838L1490 837.4L1493 836.8L1496 836.3L1496 841.5L1499 840.9L1502 840.4L1505 839.8L1505 841.5L1508 840.9L1511 840.4L1514 839.8L1514 864L1517.9 863.3L1522 862.7L1522 880.4"/>
<path class="c g" d="M1035.8 630L1038.9 630L1042 630L1045.1 630L1048.3 630L1051.4 630L1054.5 630L1057.6 630L1060.7 630L1063.8 630L1066.9 630L1070.1 630L1073.2 630L1076.3 630L1079 630L1079 688L1082.4 684.8L1085.5 681.9L1088.5 679.3L1091.5 677L1094.6 674.8L1097.6 672.9L1100.6 671.1L1103.6 669.4L1106.7 667.9L1109.7 666.5L1112.7 665.2L1115.8 664L1118.8 662.8L1121.8 661.8L1124.8 660.8L1127.9 659.8L1130.9 658.9L1133.9 658.1L1137 657.3L1140 656.6L1140 679L1143.2 677.7L1146.5 676.5L1149.8 675.3L1153 674.2L1156.2 673.1L1159.5 672.1L1162.8 671.2L1166 670.2L1166 689L1170 687.5L1174 686.1L1174 701L1177 699.8L1179.9 698.6L1182.9 697.5L1185.8 696.4L1188.8 695.4L1191.8 694.3L1194.7 693.3L1197.7 692.4L1200.6 691.4L1203.6 690.5L1206.5 689.7L1210 688.8L1210 688.5L1213.8 687.3L1218 686.2L1218 697.5L1222.2 696.2L1226 695L1226 705.5L1230.8 704.2L1235 702.9L1235 721L1237.9 720L1240.8 719L1243.8 718.1L1246.7 717.2L1249.6 716.3L1252.5 715.4L1255.4 714.5L1258.3 713.6L1261.2 712.8L1264.2 712L1267.1 711.2L1270 710.4L1270 718L1273 717.2L1276 716.3L1279 715.5L1279 730.5L1282.4 729.5L1285.8 728.5L1289.2 727.5L1292.6 726.6L1296 725.7L1296 731L1299 730.2L1302 729.3L1305 728.5L1305 736L1307.9 735.2L1310.8 734.4L1313.8 733.6L1316.7 732.8L1319.6 732.1L1322 731.3L1322 736.5L1325.4 735.7L1328.3 735L1331.2 734.3L1334.2 733.5L1337.1 732.8L1340 732.1L1340 742L1343.2 741.2L1346.5 740.4L1349.8 739.6L1353 738.8L1356.2 738L1359.5 737.2L1362.8 736.5L1366 735.7L1366 740L1370 739.1L1374 738.2L1374 747L1377 746.3L1380 745.6L1383 744.9L1386 744.3L1389 743.6L1392 742.9L1392 754L1395 753.3L1398 752.6L1401 752L1404 751.3L1407 750.7L1410 750L1410 756L1414 755.1L1418 754.3L1418 766L1421.4 765.2L1424.8 764.5L1428.2 763.8L1431.6 763L1435 762.3L1435 771L1437.9 770.4L1440.8 769.8L1443.8 769.1L1446.7 768.5L1449.6 767.9L1452 767.3L1452 780L1456.8 779.1L1461 778.2L1461 786L1464 785.4L1467 784.8L1470 784.1L1470 798L1474.2 797.1L1478 796.3L1478 813L1481.4 812.4L1484.3 811.8L1487.2 811.2L1490.2 810.6L1493.1 810.1L1496 809.5L1496 816L1499 815.4L1502 814.8L1505 814.3L1505 867L1508 866.5L1511 866L1514 865.4L1514 869L1517.9 868.3L1522 867.7L1522 880.4"/>
<path class="c r" d="M1035.8 630L1039.2 630L1042.7 630L1046.1 630L1049.6 630L1053 630L1053 750L1055.9 737.8L1058.8 727.8L1061.8 719.5L1064.7 712.5L1067.6 706.5L1070.5 701.3L1073.4 696.8L1076.3 692.8L1079.2 689.3L1082.2 686.1L1085.1 683.2L1088 680.7L1090.9 678.3L1093.8 676.2L1096.8 674.2L1099.7 672.5L1102.6 670.8L1105.5 669.3L1108.4 667.8L1111.3 666.5L1114.2 665.3L1117.2 664.1L1120.1 663L1123 662L1123 689L1126 687.3L1129.1 685.7L1132.2 684.2L1135.2 682.8L1138.2 681.4L1141.3 680.1L1144.3 678.9L1147.4 677.7L1150.5 676.6L1153.5 675.6L1156.5 674.5L1159.6 673.6L1162.7 672.6L1165.7 671.8L1168.8 670.9L1171.8 670.1L1174.8 669.3L1177.9 668.5L1181 667.8L1184 667.1L1184 683L1187.2 682L1190.4 681.1L1193.6 680.2L1196.8 679.4L1199.9 678.5L1203.1 677.7L1206.3 676.9L1210 676.2L1210 688.5L1213.8 687.3L1218 686.2L1218 697.5L1222.2 696.2L1226 695L1226 705.5L1229.8 704.5L1233 703.5L1236.2 702.6L1239.5 701.6L1242.8 700.7L1246 699.8L1249.2 699L1252 698.1L1252 706.5L1255.4 705.7L1258.4 704.9L1261.3 704.1L1264.3 703.3L1267.2 702.6L1270.2 701.9L1273.1 701.1L1276.1 700.4L1279 699.7L1279 709L1282 708.2L1285 707.5L1288 706.8L1288 713.5L1290.9 712.8L1293.8 712L1296.8 711.3L1299.7 710.6L1302.6 709.9L1306 709.3L1306 716L1308.9 715.2L1312.3 714.4L1315.7 713.6L1319.1 712.8L1322 712L1322 730.5L1326.8 729.4L1331 728.4L1331 733.5L1335.2 732.4L1340 731.4L1340 742L1342.4 741.3L1345.3 740.5L1348.2 739.8L1351.2 739.1L1354.1 738.4L1357 737.7L1357 747L1360.4 746.2L1363.8 745.3L1367.2 744.5L1370.6 743.7L1374 742.9L1374 747L1377 746.3L1380 745.6L1383 744.9L1386 744.3L1389 743.6L1392 742.9L1392 773L1395 772.3L1398 771.6L1401 770.8L1401 774L1404 773.3L1407 772.6L1410 771.9L1410 783.5L1413.3 782.7L1416.6 782L1419.9 781.2L1423.2 780.4L1426 779.7L1426 786.5L1430.8 785.5L1435 784.6L1435 795L1437.9 794.3L1440.8 793.7L1443.8 793.1L1446.7 792.4L1449.6 791.8L1452 791.2L1452 795L1455.7 794.3L1458.8 793.6L1462 793L1462 799.5L1465.3 798.8L1468.6 798.1L1471.9 797.4L1475.2 796.8L1478 796.1L1478 807L1481.4 806.4L1484.3 805.8L1487.2 805.2L1490.2 804.7L1493.1 804.1L1496 803.5L1496 811L1499 810.4L1502 809.8L1505 809.2L1505 823.5L1508 822.9L1511 822.4L1514 821.8L1514 828.5L1517.9 827.8L1522 827.1L1522 880.4"/>
<path class="c p" d="M1035.8 630L1038.8 630L1041.8 630L1044.8 630L1047.8 630L1050.8 630L1053.9 630L1056.9 630L1059.9 630L1062.9 630L1065.9 630L1068.9 630L1071.9 630L1074.9 630L1077.9 630L1081 630L1084 630L1087 630L1090 630L1093 630L1096 630L1096 673L1098.9 671.2L1101.8 669.6L1104.8 668.1L1107.7 666.7L1110.6 665.4L1113.5 664.2L1116.4 663L1119.3 662L1122.2 661L1125.2 660L1128.1 659.1L1131 658.3L1131 684L1134.4 682.4L1137.8 680.9L1141.2 679.5L1144.6 678.1L1148 676.8L1148 713L1151 711.3L1154 709.7L1157 708.2L1157 737L1160 735.2L1163 733.4L1166 731.7L1166 744L1169 742.2L1172 740.5L1174.9 738.9L1177.9 737.3L1180.9 735.7L1183.9 734.2L1186.9 732.7L1189.9 731.3L1192.8 729.9L1195.8 728.5L1198.8 727.2L1201.8 725.9L1204.8 724.6L1207.8 723.4L1210.7 722.2L1213.7 721.1L1216.7 719.9L1219.7 718.8L1222.7 717.8L1225.7 716.7L1228.6 715.7L1231.6 714.7L1234.6 713.7L1237.6 712.7L1240.6 711.8L1243.6 710.9L1246.5 710L1249.5 709.1L1252 708.3L1252 716L1256.8 714.7L1261 713.5L1261 742L1264 741L1267 740L1270 739L1270 768.5L1273 767.4L1276 766.3L1279 765.3L1279 770.5L1281.9 769.5L1284.8 768.5L1287.8 767.5L1290.7 766.5L1293.6 765.5L1296 764.6L1296 769.5L1299.9 768.4L1303.3 767.3L1306.7 766.2L1310.1 765.2L1314 764.1L1314 768.5L1316.9 767.5L1320.3 766.4L1323.7 765.4L1327.1 764.4L1330 763.5L1330 767.5L1333.4 766.7L1336.3 765.8L1339.2 765L1342.2 764.2L1345.1 763.4L1348 762.6L1348 766L1351.4 765.1L1354.8 764.2L1358.2 763.3L1361.6 762.4L1365 761.5L1365 765L1367.9 764.3L1370.8 763.5L1373.8 762.8L1376.7 762.1L1379.6 761.3L1382.5 760.6L1385.4 759.9L1388.3 759.3L1391.2 758.6L1394.2 757.9L1397.1 757.2L1400 756.6L1400 767L1402.9 766.3L1405.9 765.6L1408.8 765L1411.8 764.3L1414.7 763.6L1417.7 763L1420.6 762.3L1423.6 761.7L1426 761.1L1426 781L1429.9 780.2L1433.3 779.5L1436.7 778.7L1440.1 778L1444 777.3L1444 783L1446.5 782.4L1449.5 781.7L1452 781.1L1452 789L1456.8 788.1L1461 787.2L1461 815L1464 814.4L1467 813.7L1470 813.1L1470 823L1474.2 822.1L1478 821.3L1478 829L1482.8 828.1L1487 827.3L1487 842L1490 841.4L1493 840.8L1496 840.3L1496 859L1499 858.5L1502 857.9L1505 857.4L1505 870L1508 869.5L1511 869L1514 868.5L1514 880L1517.9 879.4L1522 878.8L1522 880.4"/>
</g>
<rect class="sp" x="1031.7" y="626.6" width="495.2" height="369"/>
<text class="tt" transform="translate(1279.2 621.8) scale(1 1.02)">PR curve (mean AUPR = 0.73, stdev = 0.02)</text>
<path class="tm" d="M1035.8 995.6v2.5M1031.7 991.2h-2.5"/><text class="tk tx" transform="translate(1035.5 1008.9) scale(1 1.05)">0.0</text><text class="tk ty" transform="translate(1027.8 996.9) scale(1 1.05)">0.0</text>
<path class="tm" d="M1132.9 995.6v2.5M1031.7 918.9h-2.5"/><text class="tk tx" transform="translate(1132.58 1008.9) scale(1 1.05)">0.2</text><text class="tk ty" transform="translate(1027.8 924.58) scale(1 1.05)">0.2</text>
<path class="tm" d="M1230 995.6v2.5M1031.7 846.6h-2.5"/><text class="tk tx" transform="translate(1229.66 1008.9) scale(1 1.05)">0.4</text><text class="tk ty" transform="translate(1027.8 852.26) scale(1 1.05)">0.4</text>
<path class="tm" d="M1327 995.6v2.5M1031.7 774.2h-2.5"/><text class="tk tx" transform="translate(1326.74 1008.9) scale(1 1.05)">0.6</text><text class="tk ty" transform="translate(1027.8 779.94) scale(1 1.05)">0.6</text>
<path class="tm" d="M1424.1 995.6v2.5M1031.7 701.9h-2.5"/><text class="tk tx" transform="translate(1423.82 1008.9) scale(1 1.05)">0.8</text><text class="tk ty" transform="translate(1027.8 707.62) scale(1 1.05)">0.8</text>
<path class="tm" d="M1521.2 995.6v2.5M1031.7 629.6h-2.5"/><text class="tk tx" transform="translate(1520.9 1008.9) scale(1 1.05)">1.0</text><text class="tk ty" transform="translate(1027.8 635.3) scale(1 1.05)">1.0</text>
<text class="al" transform="translate(1279.4 1024.1) scale(1 1.05)">Recall</text>
<text class="al" transform="translate(1004.4 810.1) rotate(-90) scale(1 1.05)">Precision</text>
</g>
<g>
<clipPath id="clip20"><rect x="373.7" y="1127.5" width="495.2" height="369"/></clipPath>
<g clip-path="url(#clip20)">
<path class="c b" d="M377 1492L377 1420L380 1420L380 1396L401 1396L401 1372L415 1372L415 1348L431 1348L431 1299L446 1299L446 1274L491 1274L491 1250L505 1250L505 1227L576 1227L576 1202L625 1202L625 1178L682 1178L682 1154L809 1154L809 1130L864 1130"/>
<path class="c o" d="M377 1492L377 1468L404 1468L404 1444L412 1444L412 1420L417 1420L417 1348L435 1348L435 1323L443 1323L443 1299L512 1299L512 1274L515 1274L515 1250L526 1250L526 1227L529 1227L529 1202L540 1202L540 1178L557 1178L557 1154L623 1154L623 1130L864 1130"/>
<path class="c g" d="M377 1492L380 1492L380 1420L390 1420L390 1396L395 1396L395 1372L444 1372L444 1323L452 1323L452 1299L483 1299L483 1275L515 1275L515 1227L600 1227L600 1202L700 1202L700 1178L720 1178L720 1154L784 1154L784 1130L864 1130"/>
<path class="c r" d="M377 1492L386 1492L386 1468L401 1468L401 1441L417 1441L417 1415L446 1415L446 1337L456 1337L456 1312L483 1312L483 1285L505 1285L505 1260L551 1260L551 1234L571 1234L571 1207L644 1207L644 1181L650 1181L650 1156L699 1156L699 1130L864 1130"/>
<path class="c p" d="M377 1492L379 1492L379 1441L383 1441L383 1415L389 1415L389 1363L397 1363L397 1337L401 1337L401 1285L417 1285L417 1259L431 1259L431 1234L471 1234L471 1181L517 1181L517 1156L676 1156L676 1130L864 1130"/>
</g>
<rect class="sp" x="373.7" y="1127.5" width="495.2" height="369"/>
<text class="tt" transform="translate(620 1122.7) scale(1 1.02)">ROC curve (mean AUROC = 0.78, stdev = 0.05)</text>
<path class="tm" d="M377.8 1496.5v2.5M373.7 1492.1h-2.5"/><text class="tk tx" transform="translate(377.5 1509.8) scale(1 1.05)">0.0</text><text class="tk ty" transform="translate(369.8 1497.8) scale(1 1.05)">0.0</text>
<path class="tm" d="M474.9 1496.5v2.5M373.7 1419.8h-2.5"/><text class="tk tx" transform="translate(474.58 1509.8) scale(1 1.05)">0.2</text><text class="tk ty" transform="translate(369.8 1425.48) scale(1 1.05)">0.2</text>
<path class="tm" d="M572 1496.5v2.5M373.7 1347.5h-2.5"/><text class="tk tx" transform="translate(571.66 1509.8) scale(1 1.05)">0.4</text><text class="tk ty" transform="translate(369.8 1353.16) scale(1 1.05)">0.4</text>
<path class="tm" d="M669 1496.5v2.5M373.7 1275.1h-2.5"/><text class="tk tx" transform="translate(668.74 1509.8) scale(1 1.05)">0.6</text><text class="tk ty" transform="translate(369.8 1280.84) scale(1 1.05)">0.6</text>
<path class="tm" d="M766.1 1496.5v2.5M373.7 1202.8h-2.5"/><text class="tk tx" transform="translate(765.82 1509.8) scale(1 1.05)">0.8</text><text class="tk ty" transform="translate(369.8 1208.52) scale(1 1.05)">0.8</text>
<path class="tm" d="M863.2 1496.5v2.5M373.7 1130.5h-2.5"/><text class="tk tx" transform="translate(862.9 1509.8) scale(1 1.05)">1.0</text><text class="tk ty" transform="translate(369.8 1136.2) scale(1 1.05)">1.0</text>
<text class="al" transform="translate(620.4 1525) scale(1 1.05)">False positive rate</text>
<text class="al" transform="translate(344 1311) rotate(-90) scale(1 1.05)">True positive rate</text>
</g>
<g>
<clipPath id="clip21"><rect x="1031.7" y="1127.5" width="495.2" height="369"/></clipPath>
<g clip-path="url(#clip21)">
<path class="bl" d="M1035.8 1464.1H1521.8"/>
<path class="c b" d="M1035.8 1130L1068.2 1130L1100.6 1130L1133 1130L1133 1220.9L1165 1202.8L1165 1371.6L1198 1353L1198 1391.7L1230 1377.9L1230 1405.3L1262.6 1394.7L1295 1385L1295 1401.7L1327 1393.5L1327 1425.7L1360 1419.8L1360 1427.5L1392 1422.3L1392 1444.2L1425 1440.4L1425 1449.1L1457 1446L1457 1453.3L1489 1450.6L1489 1462.1L1522 1460.2L1522 1464.1"/>
<path class="c o" d="M1035.8 1130L1068 1130L1068 1455.9L1101 1426.4L1101 1440.4L1133 1419.8L1133 1431.8L1165.4 1416L1197.8 1401.7L1230 1388.8L1230 1408.7L1263 1398.4L1263 1407.7L1295 1398.8L1295 1441.3L1327.4 1436L1360 1430.8L1360 1433.8L1392.2 1429L1425 1424.3L1425 1429.2L1457 1424.9L1457 1431.1L1489 1427.2L1489 1442.5L1522 1439.4L1522 1464.1"/>
<path class="c g" d="M1036 1130.5L1036 1492.1L1068.2 1311.3L1100.6 1251L1133 1220.9L1133 1337.1L1165 1311.3L1165 1347.5L1198 1327.7L1198 1429.8L1230.2 1419.8L1263 1410.4L1263 1415.4L1295 1407L1295 1427.8L1327 1421.4L1327 1434L1359.8 1428.7L1392 1423.5L1392 1446.9L1425 1443.3L1425 1458.2L1457 1455.7L1457 1457L1489 1454.6L1489 1460.1L1522 1458L1522 1464.1"/>
<path class="c r" d="M1036 1130.5L1036 1492.1L1071 1401.7L1071 1451.9L1105 1419.8L1105 1446.9L1140 1428.3L1140 1451.9L1174.7 1440.4L1209.4 1429.8L1244 1419.8L1244 1428.3L1279 1419.8L1279 1434.6L1314 1427.8L1314 1437.5L1348 1431.8L1348 1446.3L1383 1441.9L1383 1446.3L1418 1442.4L1418 1454.2L1452.4 1451.2L1487 1448.2L1487 1453.3L1522 1450.6L1522 1464.1"/>
<path class="c p" d="M1036 1130.5L1036 1492.1L1070.5 1311.3L1105 1251L1105 1311.3L1140 1275.1L1140 1337.1L1174.7 1311.3L1209 1291.2L1209 1341.4L1244 1325.2L1244 1337.1L1278.8 1323.4L1314 1311.3L1314 1360.6L1348 1350.6L1348 1375.9L1383 1367.4L1383 1408L1417.7 1401.7L1452 1395.7L1452 1421L1487 1416.3L1487 1451.9L1522 1449.2L1522 1464.1"/>
</g>
<rect class="sp" x="1031.7" y="1127.5" width="495.2" height="369"/>
<text class="tt" transform="translate(1279.2 1122.7) scale(1 1.02)">PR curve (mean AUPR = 0.29, stdev = 0.09)</text>
<path class="tm" d="M1035.8 1496.5v2.5M1031.7 1492.1h-2.5"/><text class="tk tx" transform="translate(1035.5 1509.8) scale(1 1.05)">0.0</text><text class="tk ty" transform="translate(1027.8 1497.8) scale(1 1.05)">0.0</text>
<path class="tm" d="M1132.9 1496.5v2.5M1031.7 1419.8h-2.5"/><text class="tk tx" transform="translate(1132.58 1509.8) scale(1 1.05)">0.2</text><text class="tk ty" transform="translate(1027.8 1425.48) scale(1 1.05)">0.2</text>
<path class="tm" d="M1230 1496.5v2.5M1031.7 1347.5h-2.5"/><text class="tk tx" transform="translate(1229.66 1509.8) scale(1 1.05)">0.4</text><text class="tk ty" transform="translate(1027.8 1353.16) scale(1 1.05)">0.4</text>
<path class="tm" d="M1327 1496.5v2.5M1031.7 1275.1h-2.5"/><text class="tk tx" transform="translate(1326.74 1509.8) scale(1 1.05)">0.6</text><text class="tk ty" transform="translate(1027.8 1280.84) scale(1 1.05)">0.6</text>
<path class="tm" d="M1424.1 1496.5v2.5M1031.7 1202.8h-2.5"/><text class="tk tx" transform="translate(1423.82 1509.8) scale(1 1.05)">0.8</text><text class="tk ty" transform="translate(1027.8 1208.52) scale(1 1.05)">0.8</text>
<path class="tm" d="M1521.2 1496.5v2.5M1031.7 1130.5h-2.5"/><text class="tk tx" transform="translate(1520.9 1509.8) scale(1 1.05)">1.0</text><text class="tk ty" transform="translate(1027.8 1136.2) scale(1 1.05)">1.0</text>
<text class="al" transform="translate(1279.4 1525) scale(1 1.05)">Recall</text>
<text class="al" transform="translate(1004.4 1311) rotate(-90) scale(1 1.05)">Precision</text>
</g>
<g>
<clipPath id="clip30"><rect x="373.7" y="1658.1" width="495.2" height="369"/></clipPath>
<g clip-path="url(#clip30)">
<path class="c b" d="M378 2023L378 1985L386 1985L386 1965L393 1965L393 1947L398 1947L398 1928L408 1928L408 1909L410 1909L410 1870L416 1870L416 1832L430 1832L430 1813L438 1813L438 1794L445 1794L445 1775L456 1775L456 1755L467 1755L467 1737L473 1737L473 1699L496 1699L496 1681L575 1681L575 1661L864 1661"/>
<path class="c o" d="M378 2023L380 2023L380 1983L384 1983L384 1962L393 1962L393 1922L398 1922L398 1902L401 1902L401 1882L410 1882L410 1862L424 1862L424 1842L432 1842L432 1781L436 1781L436 1761L458 1761L458 1741L482 1741L482 1721L494 1721L494 1701L497 1701L497 1681L596 1681L596 1661L864 1661"/>
<path class="c g" d="M378 2023L378 2004L380 2004L380 1942L384 1942L384 1902L386 1902L386 1781L413 1781L413 1761L419 1761L419 1741L436 1741L436 1721L514 1721L514 1701L523 1701L523 1681L630 1681L630 1661L864 1661"/>
<path class="c r" d="M378 2023L378 1942L380 1942L380 1922L413 1922L413 1902L419 1902L419 1882L424 1882L424 1862L439 1862L439 1842L462 1842L462 1821L483 1821L483 1761L499 1761L499 1741L526 1741L526 1721L578 1721L578 1701L651 1701L651 1681L684 1681L684 1661L864 1661"/>
<path class="c p" d="M378 2023L378 1962L380 1962L380 1942L384 1942L384 1922L390 1922L390 1882L422 1882L422 1862L424 1862L424 1842L428 1842L428 1822L438 1822L438 1781L461 1781L461 1761L488 1761L488 1741L490 1741L490 1721L587 1721L587 1701L607 1701L607 1681L750 1681L750 1661L864 1661"/>
</g>
<rect class="sp" x="373.7" y="1657.5" width="495.2" height="369.9"/>
<text class="tt" transform="translate(620 1653.3) scale(1 1.02)">ROC curve (mean AUROC = 0.77, stdev = 0.04)</text>
<path class="tm" d="M377.8 2027.1v2.5M373.7 2022.7h-2.5"/><text class="tk tx" transform="translate(377.5 2040.4) scale(1 1.05)">0.0</text><text class="tk ty" transform="translate(369.8 2028.4) scale(1 1.05)">0.0</text>
<path class="tm" d="M474.9 2027.1v2.5M373.7 1950.4h-2.5"/><text class="tk tx" transform="translate(474.58 2040.4) scale(1 1.05)">0.2</text><text class="tk ty" transform="translate(369.8 1956.08) scale(1 1.05)">0.2</text>
<path class="tm" d="M572 2027.1v2.5M373.7 1878.1h-2.5"/><text class="tk tx" transform="translate(571.66 2040.4) scale(1 1.05)">0.4</text><text class="tk ty" transform="translate(369.8 1883.76) scale(1 1.05)">0.4</text>
<path class="tm" d="M669 2027.1v2.5M373.7 1805.7h-2.5"/><text class="tk tx" transform="translate(668.74 2040.4) scale(1 1.05)">0.6</text><text class="tk ty" transform="translate(369.8 1811.44) scale(1 1.05)">0.6</text>
<path class="tm" d="M766.1 2027.1v2.5M373.7 1733.4h-2.5"/><text class="tk tx" transform="translate(765.82 2040.4) scale(1 1.05)">0.8</text><text class="tk ty" transform="translate(369.8 1739.12) scale(1 1.05)">0.8</text>
<path class="tm" d="M863.2 2027.1v2.5M373.7 1661.1h-2.5"/><text class="tk tx" transform="translate(862.9 2040.4) scale(1 1.05)">1.0</text><text class="tk ty" transform="translate(369.8 1666.8) scale(1 1.05)">1.0</text>
<text class="al" transform="translate(620.4 2055.6) scale(1 1.05)">False positive rate</text>
<text class="al" transform="translate(344 1841.6) rotate(-90) scale(1 1.05)">True positive rate</text>
</g>
<g>
<clipPath id="clip31"><rect x="1031.7" y="1658.1" width="495.2" height="369"/></clipPath>
<g clip-path="url(#clip31)">
<path class="bl" d="M1035.8 1987.1H1521.8"/>
<path class="c b" d="M1035.8 1661L1061.4 1661L1087 1661L1087 1878.1L1113 1841.9L1113 1887.1L1138 1862L1138 1891.2L1164 1872L1164 1902.2L1189 1887.1L1189 1895.1L1214.9 1882.1L1240 1870.4L1240 1884.9L1266 1874.8L1292 1865.5L1292 1893.6L1317 1885.5L1317 1898.4L1343 1891.2L1343 1898.7L1368 1892.1L1368 1905.2L1394 1899.2L1394 1910.2L1419 1904.8L1419 1909.7L1445.1 1904.6L1471 1899.8L1471 1916.7L1496 1912.4L1496 1947L1522 1943.7L1522 1987.1"/>
<path class="c o" d="M1036 1661.1L1036 2022.7L1062.8 1841.9L1090 1781.6L1090 1841.9L1117 1805.7L1117 1887.1L1143.8 1862L1171 1841.9L1171 1872L1198 1855.8L1198 1867.7L1225 1854L1225 1882.1L1252 1870.4L1252 1902.2L1279 1892.5L1279 1906.5L1305.8 1898L1332.8 1890.1L1360 1882.7L1360 1887.1L1387 1880.3L1387 1908L1414 1902.2L1414 1921.5L1441 1916.3L1441 1924.1L1468 1919.4L1468 1921.2L1495 1916.7L1495 1954.4L1522 1951.2L1522 1987.1"/>
<path class="c g" d="M1035.8 1661L1063 1661L1063 1841.9L1089.8 1781.6L1116.8 1751.5L1144 1733.4L1144 1781.6L1170.8 1764.4L1198 1751.5L1198 1781.6L1224.8 1769.6L1251.8 1759.7L1278.8 1751.5L1305.8 1744.5L1332.8 1738.6L1360 1733.4L1360 1841.9L1387 1834.7L1387 1848.6L1414 1841.9L1414 1873.8L1441 1867.7L1441 1935.2L1468 1930.9L1468 1935L1495 1931L1495 1962.4L1522 1959.5L1522 1987.1"/>
<path class="c r" d="M1035.8 1661L1062.8 1661L1089.8 1661L1117 1661L1117 1751.5L1143.8 1733.4L1171 1721.4L1171 1916.3L1198 1902.2L1198 1914.2L1225 1902.2L1225 1912.6L1252 1902.2L1252 1922.9L1279 1914.2L1279 1937.1L1306 1930L1306 1944.1L1332.8 1938.1L1359.8 1932.3L1387 1926.8L1387 1937.2L1414 1932.3L1414 1944.8L1441 1940.5L1441 1957.4L1468 1953.8L1468 1969.6L1495 1966.8L1495 1972.7L1522 1970.2L1522 1987.1"/>
<path class="c p" d="M1035.8 1661L1062.8 1661L1089.8 1661L1117 1661L1117 1751.5L1144 1733.4L1144 1781.6L1171 1764.4L1171 1821.8L1197.8 1805.7L1225 1792.6L1225 1907.6L1252 1896.9L1252 1902.2L1279 1892.5L1279 1897.5L1306 1888.8L1306 1906.1L1332.8 1898.4L1360 1891.2L1360 1916.9L1387 1910.8L1387 1930.5L1414 1925.3L1414 1927.2L1441 1922.3L1441 1959.6L1468 1956.2L1468 1961.8L1495 1958.7L1495 1979.7L1522 1977.5L1522 1987.1"/>
</g>
<rect class="sp" x="1031.7" y="1657.5" width="495.2" height="369.9"/>
<text class="tt" transform="translate(1279.2 1653.3) scale(1 1.02)">PR curve (mean AUPR = 0.47, stdev = 0.08)</text>
<path class="tm" d="M1035.8 2027.1v2.5M1031.7 2022.7h-2.5"/><text class="tk tx" transform="translate(1035.5 2040.4) scale(1 1.05)">0.0</text><text class="tk ty" transform="translate(1027.8 2028.4) scale(1 1.05)">0.0</text>
<path class="tm" d="M1132.9 2027.1v2.5M1031.7 1950.4h-2.5"/><text class="tk tx" transform="translate(1132.58 2040.4) scale(1 1.05)">0.2</text><text class="tk ty" transform="translate(1027.8 1956.08) scale(1 1.05)">0.2</text>
<path class="tm" d="M1230 2027.1v2.5M1031.7 1878.1h-2.5"/><text class="tk tx" transform="translate(1229.66 2040.4) scale(1 1.05)">0.4</text><text class="tk ty" transform="translate(1027.8 1883.76) scale(1 1.05)">0.4</text>
<path class="tm" d="M1327 2027.1v2.5M1031.7 1805.7h-2.5"/><text class="tk tx" transform="translate(1326.74 2040.4) scale(1 1.05)">0.6</text><text class="tk ty" transform="translate(1027.8 1811.44) scale(1 1.05)">0.6</text>
<path class="tm" d="M1424.1 2027.1v2.5M1031.7 1733.4h-2.5"/><text class="tk tx" transform="translate(1423.82 2040.4) scale(1 1.05)">0.8</text><text class="tk ty" transform="translate(1027.8 1739.12) scale(1 1.05)">0.8</text>
<path class="tm" d="M1521.2 2027.1v2.5M1031.7 1661.1h-2.5"/><text class="tk tx" transform="translate(1520.9 2040.4) scale(1 1.05)">1.0</text><text class="tk ty" transform="translate(1027.8 1666.8) scale(1 1.05)">1.0</text>
<text class="al" transform="translate(1279.4 2055.6) scale(1 1.05)">Recall</text>
<text class="al" transform="translate(1004.4 1841.6) rotate(-90) scale(1 1.05)">Precision</text>
</g>
</g>
</svg>
</body>
</html>
